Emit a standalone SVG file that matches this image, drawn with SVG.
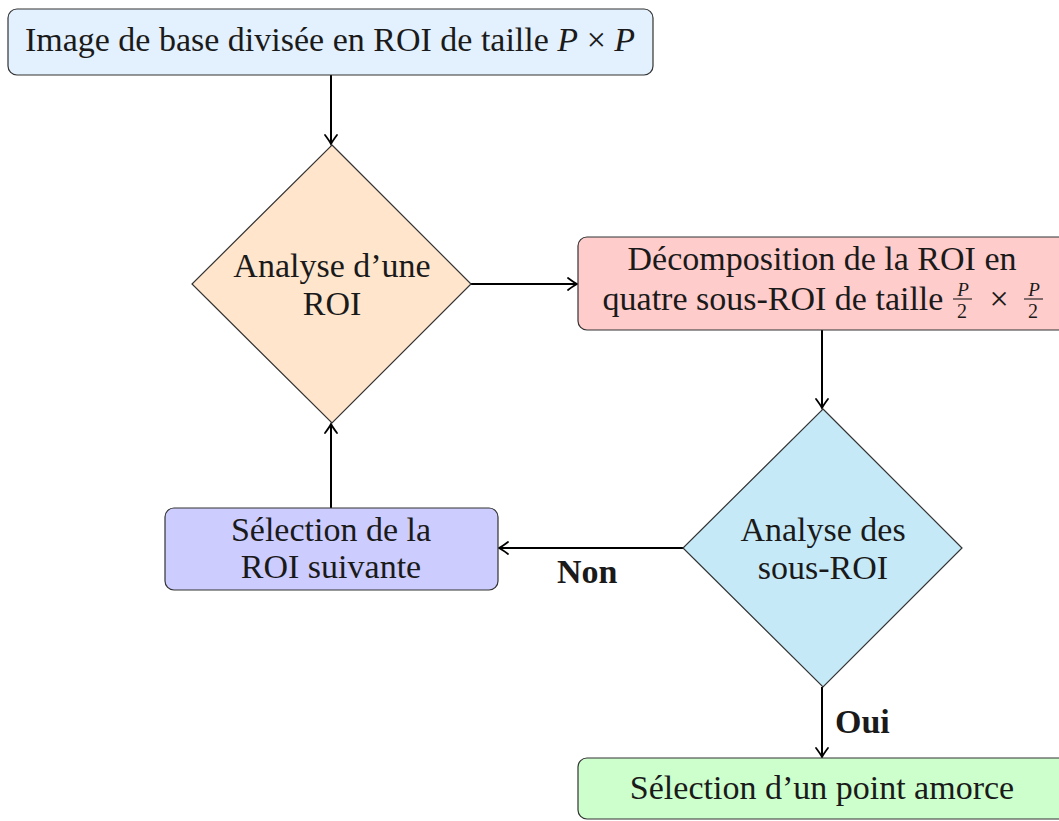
<svg xmlns="http://www.w3.org/2000/svg" width="1059" height="821" viewBox="0 0 1059 821">
<defs>
<marker id="arr" markerUnits="userSpaceOnUse" markerWidth="24" markerHeight="24" refX="0" refY="0" viewBox="-12 -12 24 24" orient="auto" overflow="visible">
<path d="M -9 -6 Q -3 -1.5 0 0 Q -3 1.5 -9 6" fill="none" stroke="#000" stroke-width="1.8" stroke-linecap="round"/>
</marker>
<style>
.n{stroke:#333;stroke-width:1.2}
.t{font-family:"Liberation Serif","DejaVu Serif",serif;font-size:34px;fill:#1a1a1a;text-anchor:middle}
.m{font-style:italic}
.f{font-size:19px;font-style:italic}
.f2{font-size:20px}
.b{font-family:"Liberation Serif","DejaVu Serif",serif;font-size:34px;font-weight:bold;fill:#1a1a1a}
.c{fill:none;stroke:#000;stroke-width:2;marker-end:url(#arr)}
</style>
</defs>
<rect width="1059" height="821" fill="#fff"/>
<g id="connectors">
<line class="c" x1="331" y1="75" x2="331" y2="144"/>
<line class="c" x1="471" y1="284" x2="577" y2="284"/>
<line class="c" x1="822" y1="330" x2="822" y2="408"/>
<line class="c" x1="683" y1="548" x2="499" y2="548"/>
<line class="c" x1="331" y1="508" x2="331" y2="424"/>
<line class="c" x1="822" y1="687" x2="822" y2="757"/>
<text class="b" x="557" y="583">Non</text>
<text class="b" x="835" y="733">Oui</text>
</g>
<g id="n-image">
<rect class="n" x="8" y="9" width="645" height="66" rx="9" fill="#E3F0FD"/>
<text class="t" x="330" y="51">Image de base divisée en ROI de taille <tspan class="m">P</tspan> × <tspan class="m">P</tspan></text>
</g>
<g id="n-analyse-roi">
<polygon class="n" points="332,145 471,284 332,423 192,284" fill="#FFE5CC"/>
<text class="t" x="332" y="277">Analyse d’une</text>
<text class="t" x="332" y="315">ROI</text>
</g>
<g id="n-decomposition">
<rect class="n" x="578" y="237" width="490" height="93" rx="9" fill="#FFCCCC"/>
<text class="t" x="822" y="270">Décomposition de la ROI en</text>
<text class="t" x="773" y="310">quatre sous-ROI de taille</text>
<text class="t f" x="963" y="296">P</text>
<line x1="953" y1="299" x2="972" y2="299" stroke="#1a1a1a" stroke-width="1.1"/>
<text class="t f2" x="962" y="318">2</text>
<text class="t" x="999" y="310">×</text>
<text class="t f" x="1034" y="296">P</text>
<line x1="1024" y1="299" x2="1043" y2="299" stroke="#1a1a1a" stroke-width="1.1"/>
<text class="t f2" x="1033" y="318">2</text>
</g>
<g id="n-analyse-sous-roi">
<polygon class="n" points="823,409 962,548 823,687 683,548" fill="#C6E9F8"/>
<text class="t" x="823" y="541">Analyse des</text>
<text class="t" x="823" y="579">sous-ROI</text>
</g>
<g id="n-selection-suivante">
<rect class="n" x="165" y="508" width="333" height="82" rx="9" fill="#CCCCFF"/>
<text class="t" x="331" y="541">Sélection de la</text>
<text class="t" x="331" y="578">ROI suivante</text>
</g>
<g id="n-point-amorce">
<rect class="n" x="578" y="758" width="490" height="61" rx="9" fill="#CCFFCC"/>
<text class="t" x="822" y="799">Sélection d’un point amorce</text>
</g>
</svg>
